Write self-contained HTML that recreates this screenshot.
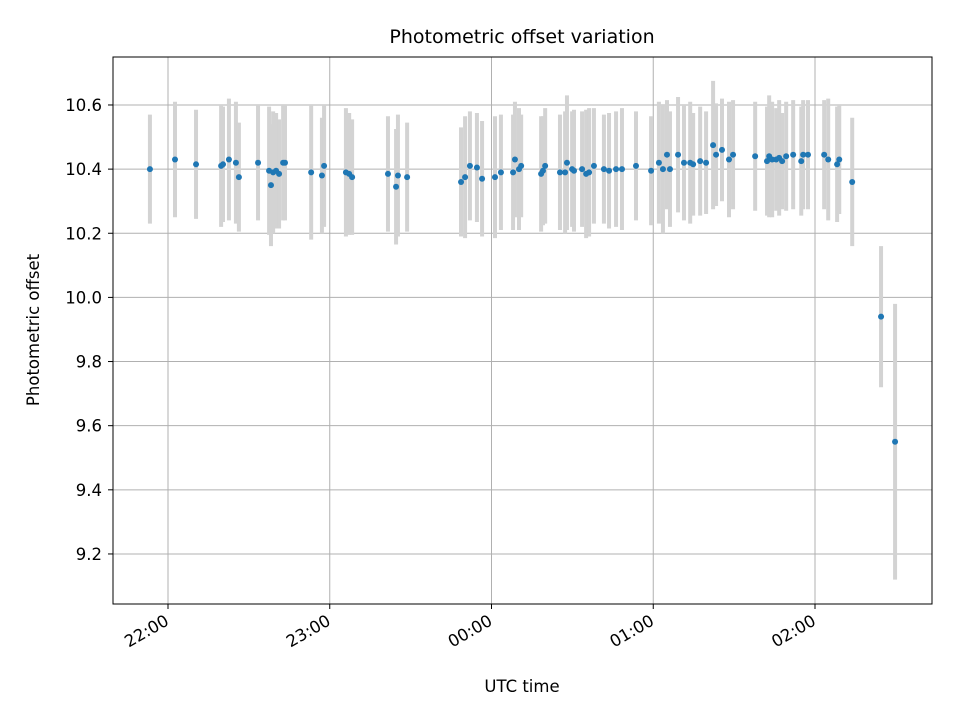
<!DOCTYPE html>
<html><head><meta charset="utf-8"><style>
body{margin:0;background:#fff;}
svg text{font-family:"DejaVu Sans","Liberation Sans",sans-serif;}
</style></head><body>
<svg id="chart" width="960" height="720" xmlns="http://www.w3.org/2000/svg">
<rect width="960" height="720" fill="#fff"/>
<g id="grid"></g>
<g id="errs"></g>
<g id="pts"></g>
<rect x="113" y="57" width="819" height="547" fill="none" stroke="#000" stroke-width="1"/>
<g id="axes"></g>
<text x="522" y="43" font-size="19" text-anchor="middle">Photometric offset variation</text>
<text x="522" y="692" font-size="16.5" text-anchor="middle">UTC time</text>
<text x="39" y="330" font-size="16.5" text-anchor="middle" transform="rotate(-90 39 330)">Photometric offset</text>
</svg>
<script>
// minutes after 22:00 UTC
const times=[-6.7,2.6,10.4,19.7,20.4,22.6,25.2,26.3,33.4,37.5,38.2,39.0,40.1,41.2,42.7,43.4,53.1,57.1,57.9,66.0,67.2,68.3,81.6,84.6,85.3,88.7,108.7,110.2,112.0,114.6,116.5,121.3,123.5,128.0,128.7,130.2,131.0,138.4,139.1,139.9,145.4,147.3,148.0,149.9,150.6,153.6,155.1,156.2,158.0,161.7,163.6,166.2,168.4,173.6,179.2,182.1,183.6,185.1,186.2,189.2,191.4,193.7,194.8,197.4,199.6,202.2,203.3,205.5,208.1,209.6,217.8,222.2,223.0,224.1,225.6,226.7,227.8,229.3,231.9,234.9,235.6,237.4,243.4,244.9,248.2,249.0,253.8,264.5,269.7];
const values=[10.40,10.43,10.415,10.41,10.415,10.43,10.42,10.375,10.42,10.395,10.35,10.39,10.395,10.385,10.42,10.42,10.39,10.38,10.41,10.39,10.385,10.375,10.385,10.345,10.38,10.375,10.36,10.375,10.41,10.405,10.37,10.375,10.39,10.39,10.43,10.40,10.41,10.385,10.395,10.41,10.39,10.39,10.42,10.40,10.395,10.40,10.385,10.39,10.41,10.40,10.395,10.40,10.40,10.41,10.395,10.42,10.40,10.445,10.40,10.445,10.42,10.42,10.415,10.425,10.42,10.475,10.445,10.46,10.43,10.445,10.44,10.425,10.44,10.43,10.43,10.435,10.425,10.44,10.445,10.425,10.445,10.445,10.445,10.43,10.415,10.43,10.36,9.94,9.55];
const errors=[0.17,0.18,0.17,0.19,0.18,0.19,0.19,0.17,0.18,0.2,0.19,0.19,0.18,0.17,0.18,0.18,0.21,0.18,0.19,0.2,0.19,0.18,0.18,0.18,0.19,0.17,0.17,0.19,0.17,0.17,0.18,0.19,0.18,0.18,0.18,0.19,0.16,0.18,0.17,0.18,0.18,0.19,0.21,0.18,0.19,0.18,0.2,0.2,0.18,0.17,0.18,0.18,0.19,0.17,0.17,0.19,0.2,0.17,0.18,0.18,0.18,0.19,0.16,0.17,0.16,0.2,0.16,0.16,0.18,0.17,0.17,0.17,0.19,0.18,0.16,0.18,0.15,0.17,0.17,0.17,0.17,0.17,0.17,0.19,0.18,0.17,0.2,0.22,0.43];
const yTicks=[9.2,9.4,9.6,9.8,10.0,10.2,10.4,10.6];
const xTickMinutes=[0,60,120,180,240];
const xTickLabels=["22:00","23:00","00:00","01:00","02:00"];
const NS="http://www.w3.org/2000/svg";
function X(m){return 168+m*(161.75/60);}
function Y(v){return 297.4-(v-10.0)*(64.14/0.2);}
function mk(tag,attrs,parent){const e=document.createElementNS(NS,tag);for(const k in attrs)e.setAttribute(k,attrs[k]);document.getElementById(parent).appendChild(e);return e;}
yTicks.forEach((t,i)=>{
  const g=mk('line',{x1:113,x2:932,y1:Y(t),y2:Y(t),stroke:'#b0b0b0','stroke-width':1},'grid');
  
  
  const tk=mk('line',{x1:108,x2:113,y1:Y(t),y2:Y(t),stroke:'#000'},'axes');
  
  
  const tx=mk('text',{x:102,y:Y(t)+6,'font-size':16.5,'text-anchor':'end'},'axes');
  tx.textContent=t.toFixed(1);
  
  
});
xTickMinutes.forEach((m,i)=>{
  const g=mk('line',{x1:X(m),x2:X(m),y1:57,y2:604,stroke:'#b0b0b0','stroke-width':1},'grid');
  
  
  const tk=mk('line',{x1:X(m),x2:X(m),y1:604,y2:609,stroke:'#000'},'axes');
  
  
  const x=X(m)+2,y=624;
  const tx=mk('text',{x:x,y:y,'font-size':16.5,'text-anchor':'end',transform:`rotate(-30 ${x} ${y})`},'axes');
  tx.textContent=xTickLabels[i];
  
  
});
times.forEach((m,i)=>{
  const v=values[i],e=errors[i];
  const b=mk('line',{x1:X(m),x2:X(m),y1:Y(v+e),y2:Y(v-e),stroke:'#d3d3d3','stroke-width':4},'errs');
  
  
  const p=mk('circle',{cx:X(m),cy:Y(v),r:3,fill:'#1f77b4'},'pts');
  
  
});
</script>
</body></html>
